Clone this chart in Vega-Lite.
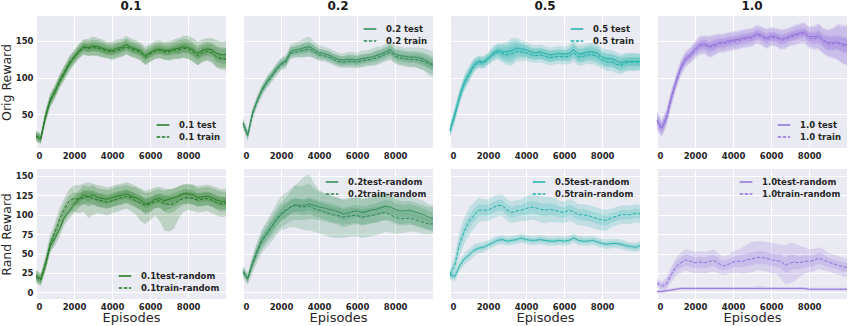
{
"$schema":"https://vega.github.io/schema/vega-lite/v6.json",
"padding":{"left":0,"top":0,"right":0,"bottom":0},
"background":"white",
"config":{
"view":{"fill":"#EAEAF2","stroke":null},
"axis":{"grid":true,"gridColor":"#FFFFFF","gridWidth":1,"domain":false,"ticks":false,"labelFont":"DejaVu Sans","labelFontWeight":"bold","labelFontSize":8.5,"labelColor":"#262626","labelPadding":3,"titleFont":"DejaVu Sans","titleFontWeight":"normal","titleFontSize":13,"titleColor":"#262626","minExtent":0},
"axisY":{"titlePadding":2,"labelPadding":3,"titleFontSize":12.5},
"axisX":{"titlePadding":1},
"title":{"font":"DejaVu Sans","fontSize":12,"fontWeight":"bold","color":"#1a1a1a","offset":3},
"legend":{"labelFont":"DejaVu Sans","labelFontWeight":"bold","labelFontSize":8.5,"labelColor":"#262626","symbolType":"stroke","symbolSize":160,"symbolStrokeWidth":1.3,"rowPadding":0,"offset":6,"labelOffset":9,"labelLimit":300}
},
"datasets":{
"o1":[
{"s":"test","x":0,"y":20,"lo":16,"hi":24,"lo2":13,"hi2":27},
{"s":"test","x":250,"y":16,"lo":12,"hi":20,"lo2":9,"hi2":23},
{"s":"test","x":500,"y":48,"lo":43,"hi":53,"lo2":39,"hi2":57},
{"s":"test","x":750,"y":68,"lo":63,"hi":73,"lo2":59,"hi2":77},
{"s":"test","x":1000,"y":82,"lo":77,"hi":87,"lo2":73,"hi2":91},
{"s":"test","x":1250,"y":95,"lo":90,"hi":100,"lo2":86,"hi2":104},
{"s":"test","x":1500,"y":106,"lo":101,"hi":111,"lo2":96,"hi2":116},
{"s":"test","x":1750,"y":118,"lo":113,"hi":123,"lo2":108,"hi2":128},
{"s":"test","x":2000,"y":128,"lo":123,"hi":133,"lo2":118,"hi2":138},
{"s":"test","x":2250,"y":136,"lo":131,"hi":141,"lo2":126,"hi2":146},
{"s":"test","x":2500,"y":142,"lo":137,"hi":147,"lo2":132,"hi2":152},
{"s":"test","x":2750,"y":141,"lo":135,"hi":147,"lo2":129,"hi2":153},
{"s":"test","x":3000,"y":143,"lo":137,"hi":149,"lo2":130,"hi2":156},
{"s":"test","x":3250,"y":142,"lo":136,"hi":148,"lo2":130,"hi2":154},
{"s":"test","x":3500,"y":140,"lo":134,"hi":146,"lo2":128,"hi2":152},
{"s":"test","x":3750,"y":138,"lo":132,"hi":144,"lo2":127,"hi2":149},
{"s":"test","x":4000,"y":137,"lo":131,"hi":143,"lo2":125,"hi2":149},
{"s":"test","x":4250,"y":140,"lo":134,"hi":146,"lo2":128,"hi2":152},
{"s":"test","x":4500,"y":141,"lo":135,"hi":147,"lo2":129,"hi2":153},
{"s":"test","x":4750,"y":145,"lo":139,"hi":151,"lo2":133,"hi2":157},
{"s":"test","x":5000,"y":141,"lo":135,"hi":147,"lo2":129,"hi2":153},
{"s":"test","x":5250,"y":139,"lo":133,"hi":145,"lo2":127,"hi2":151},
{"s":"test","x":5500,"y":136,"lo":130,"hi":142,"lo2":124,"hi2":148},
{"s":"test","x":5750,"y":130,"lo":124,"hi":136,"lo2":118,"hi2":142},
{"s":"test","x":6000,"y":134,"lo":128,"hi":140,"lo2":122,"hi2":146},
{"s":"test","x":6250,"y":138,"lo":132,"hi":144,"lo2":126,"hi2":150},
{"s":"test","x":6500,"y":139,"lo":133,"hi":145,"lo2":127,"hi2":151},
{"s":"test","x":6750,"y":137,"lo":131,"hi":143,"lo2":125,"hi2":149},
{"s":"test","x":7000,"y":137,"lo":131,"hi":143,"lo2":124,"hi2":150},
{"s":"test","x":7250,"y":139,"lo":133,"hi":145,"lo2":126,"hi2":152},
{"s":"test","x":7500,"y":140,"lo":133,"hi":147,"lo2":126,"hi2":154},
{"s":"test","x":7750,"y":142,"lo":135,"hi":149,"lo2":127,"hi2":157},
{"s":"test","x":8000,"y":141,"lo":134,"hi":148,"lo2":125,"hi2":157},
{"s":"test","x":8250,"y":138,"lo":131,"hi":145,"lo2":122,"hi2":154},
{"s":"test","x":8500,"y":133,"lo":126,"hi":140,"lo2":117,"hi2":149},
{"s":"test","x":8750,"y":137,"lo":130,"hi":144,"lo2":122,"hi2":152},
{"s":"test","x":9000,"y":139,"lo":132,"hi":146,"lo2":124,"hi2":154},
{"s":"test","x":9250,"y":138,"lo":131,"hi":145,"lo2":122,"hi2":154},
{"s":"test","x":9500,"y":133,"lo":125,"hi":141,"lo2":115,"hi2":151},
{"s":"test","x":9750,"y":131,"lo":123,"hi":139,"lo2":113,"hi2":149},
{"s":"test","x":9990,"y":132,"lo":124,"hi":140,"lo2":114,"hi2":150},
{"s":"train","x":0,"y":21,"lo":17,"hi":25,"lo2":14,"hi2":28},
{"s":"train","x":250,"y":17,"lo":13,"hi":21,"lo2":10,"hi2":24},
{"s":"train","x":500,"y":46,"lo":41,"hi":51,"lo2":37,"hi2":55},
{"s":"train","x":750,"y":70,"lo":65,"hi":75,"lo2":61,"hi2":79},
{"s":"train","x":1000,"y":80,"lo":75,"hi":85,"lo2":71,"hi2":89},
{"s":"train","x":1250,"y":96,"lo":91,"hi":101,"lo2":87,"hi2":105},
{"s":"train","x":1500,"y":108,"lo":103,"hi":113,"lo2":99,"hi2":117},
{"s":"train","x":1750,"y":120,"lo":115,"hi":125,"lo2":111,"hi2":129},
{"s":"train","x":2000,"y":127,"lo":122,"hi":132,"lo2":118,"hi2":136},
{"s":"train","x":2250,"y":135,"lo":130,"hi":140,"lo2":126,"hi2":144},
{"s":"train","x":2500,"y":141,"lo":136,"hi":146,"lo2":131,"hi2":151},
{"s":"train","x":2750,"y":140,"lo":135,"hi":145,"lo2":130,"hi2":150},
{"s":"train","x":3000,"y":141,"lo":136,"hi":146,"lo2":130,"hi2":152},
{"s":"train","x":3250,"y":140,"lo":135,"hi":145,"lo2":129,"hi2":151},
{"s":"train","x":3500,"y":138,"lo":133,"hi":143,"lo2":127,"hi2":149},
{"s":"train","x":3750,"y":136,"lo":131,"hi":141,"lo2":126,"hi2":146},
{"s":"train","x":4000,"y":135,"lo":130,"hi":140,"lo2":124,"hi2":146},
{"s":"train","x":4250,"y":137,"lo":132,"hi":142,"lo2":126,"hi2":148},
{"s":"train","x":4500,"y":139,"lo":134,"hi":144,"lo2":128,"hi2":150},
{"s":"train","x":4750,"y":142,"lo":137,"hi":147,"lo2":131,"hi2":153},
{"s":"train","x":5000,"y":139,"lo":134,"hi":144,"lo2":128,"hi2":150},
{"s":"train","x":5250,"y":137,"lo":132,"hi":142,"lo2":126,"hi2":148},
{"s":"train","x":5500,"y":134,"lo":129,"hi":139,"lo2":123,"hi2":145},
{"s":"train","x":5750,"y":128,"lo":123,"hi":133,"lo2":117,"hi2":139},
{"s":"train","x":6000,"y":132,"lo":127,"hi":137,"lo2":121,"hi2":143},
{"s":"train","x":6250,"y":136,"lo":131,"hi":141,"lo2":125,"hi2":147},
{"s":"train","x":6500,"y":137,"lo":132,"hi":142,"lo2":126,"hi2":148},
{"s":"train","x":6750,"y":135,"lo":130,"hi":140,"lo2":124,"hi2":146},
{"s":"train","x":7000,"y":135,"lo":130,"hi":140,"lo2":123,"hi2":147},
{"s":"train","x":7250,"y":137,"lo":132,"hi":142,"lo2":125,"hi2":149},
{"s":"train","x":7500,"y":138,"lo":132,"hi":144,"lo2":125,"hi2":151},
{"s":"train","x":7750,"y":140,"lo":134,"hi":146,"lo2":127,"hi2":153},
{"s":"train","x":8000,"y":139,"lo":133,"hi":145,"lo2":126,"hi2":152},
{"s":"train","x":8250,"y":135,"lo":129,"hi":141,"lo2":122,"hi2":148},
{"s":"train","x":8500,"y":130,"lo":124,"hi":136,"lo2":117,"hi2":143},
{"s":"train","x":8750,"y":134,"lo":128,"hi":140,"lo2":121,"hi2":147},
{"s":"train","x":9000,"y":136,"lo":130,"hi":142,"lo2":123,"hi2":149},
{"s":"train","x":9250,"y":134,"lo":128,"hi":140,"lo2":120,"hi2":148},
{"s":"train","x":9500,"y":128,"lo":121,"hi":135,"lo2":113,"hi2":143},
{"s":"train","x":9750,"y":126,"lo":119,"hi":133,"lo2":111,"hi2":141},
{"s":"train","x":9990,"y":125,"lo":118,"hi":132,"lo2":110,"hi2":140}
],
"o2":[
{"s":"test","x":0,"y":38,"lo":35,"hi":41,"lo2":32,"hi2":44},
{"s":"test","x":250,"y":22,"lo":19,"hi":25,"lo2":16,"hi2":28},
{"s":"test","x":500,"y":52,"lo":49,"hi":55,"lo2":46,"hi2":58},
{"s":"test","x":750,"y":69,"lo":66,"hi":72,"lo2":63,"hi2":75},
{"s":"test","x":1000,"y":84,"lo":81,"hi":87,"lo2":78,"hi2":90},
{"s":"test","x":1250,"y":94,"lo":90,"hi":98,"lo2":87,"hi2":101},
{"s":"test","x":1500,"y":103,"lo":99,"hi":107,"lo2":96,"hi2":110},
{"s":"test","x":1750,"y":112,"lo":108,"hi":116,"lo2":105,"hi2":119},
{"s":"test","x":2000,"y":119,"lo":115,"hi":123,"lo2":111,"hi2":127},
{"s":"test","x":2250,"y":123,"lo":119,"hi":127,"lo2":115,"hi2":131},
{"s":"test","x":2500,"y":136,"lo":131,"hi":141,"lo2":127,"hi2":145},
{"s":"test","x":2750,"y":138,"lo":133,"hi":143,"lo2":128,"hi2":148},
{"s":"test","x":3000,"y":139,"lo":134,"hi":144,"lo2":128,"hi2":150},
{"s":"test","x":3250,"y":141,"lo":135,"hi":147,"lo2":128,"hi2":154},
{"s":"test","x":3500,"y":142,"lo":136,"hi":148,"lo2":128,"hi2":156},
{"s":"test","x":3750,"y":138,"lo":133,"hi":143,"lo2":127,"hi2":149},
{"s":"test","x":4000,"y":134,"lo":129,"hi":139,"lo2":124,"hi2":144},
{"s":"test","x":4250,"y":133,"lo":128,"hi":138,"lo2":124,"hi2":142},
{"s":"test","x":4500,"y":131,"lo":126,"hi":136,"lo2":122,"hi2":140},
{"s":"test","x":4750,"y":128,"lo":123,"hi":133,"lo2":119,"hi2":137},
{"s":"test","x":5000,"y":125,"lo":120,"hi":130,"lo2":116,"hi2":134},
{"s":"test","x":5250,"y":124,"lo":119,"hi":129,"lo2":115,"hi2":133},
{"s":"test","x":5500,"y":125,"lo":120,"hi":130,"lo2":115,"hi2":135},
{"s":"test","x":5750,"y":125,"lo":120,"hi":130,"lo2":115,"hi2":135},
{"s":"test","x":6000,"y":124,"lo":119,"hi":129,"lo2":114,"hi2":134},
{"s":"test","x":6250,"y":126,"lo":121,"hi":131,"lo2":115,"hi2":137},
{"s":"test","x":6500,"y":127,"lo":122,"hi":132,"lo2":117,"hi2":137},
{"s":"test","x":6750,"y":128,"lo":123,"hi":133,"lo2":117,"hi2":139},
{"s":"test","x":7000,"y":130,"lo":124,"hi":136,"lo2":118,"hi2":142},
{"s":"test","x":7250,"y":132,"lo":127,"hi":137,"lo2":122,"hi2":142},
{"s":"test","x":7500,"y":135,"lo":130,"hi":140,"lo2":124,"hi2":146},
{"s":"test","x":7750,"y":138,"lo":132,"hi":144,"lo2":126,"hi2":150},
{"s":"test","x":8000,"y":132,"lo":126,"hi":138,"lo2":121,"hi2":143},
{"s":"test","x":8250,"y":130,"lo":124,"hi":136,"lo2":118,"hi2":142},
{"s":"test","x":8500,"y":129,"lo":123,"hi":135,"lo2":117,"hi2":141},
{"s":"test","x":8750,"y":128,"lo":122,"hi":134,"lo2":115,"hi2":141},
{"s":"test","x":9000,"y":128,"lo":122,"hi":134,"lo2":115,"hi2":141},
{"s":"test","x":9250,"y":127,"lo":121,"hi":133,"lo2":113,"hi2":141},
{"s":"test","x":9500,"y":125,"lo":118,"hi":132,"lo2":110,"hi2":140},
{"s":"test","x":9750,"y":121,"lo":113,"hi":129,"lo2":104,"hi2":138},
{"s":"test","x":9990,"y":118,"lo":110,"hi":126,"lo2":100,"hi2":136},
{"s":"train","x":0,"y":37,"lo":33,"hi":41,"lo2":29,"hi2":45},
{"s":"train","x":250,"y":21,"lo":17,"hi":25,"lo2":13,"hi2":29},
{"s":"train","x":500,"y":50,"lo":46,"hi":54,"lo2":42,"hi2":58},
{"s":"train","x":750,"y":68,"lo":64,"hi":72,"lo2":60,"hi2":76},
{"s":"train","x":1000,"y":82,"lo":78,"hi":86,"lo2":74,"hi2":90},
{"s":"train","x":1250,"y":93,"lo":89,"hi":97,"lo2":85,"hi2":101},
{"s":"train","x":1500,"y":101,"lo":97,"hi":105,"lo2":93,"hi2":109},
{"s":"train","x":1750,"y":110,"lo":106,"hi":114,"lo2":102,"hi2":118},
{"s":"train","x":2000,"y":118,"lo":114,"hi":122,"lo2":110,"hi2":126},
{"s":"train","x":2250,"y":121,"lo":117,"hi":125,"lo2":113,"hi2":129},
{"s":"train","x":2500,"y":133,"lo":129,"hi":137,"lo2":125,"hi2":141},
{"s":"train","x":2750,"y":135,"lo":131,"hi":139,"lo2":127,"hi2":143},
{"s":"train","x":3000,"y":136,"lo":132,"hi":140,"lo2":127,"hi2":145},
{"s":"train","x":3250,"y":138,"lo":133,"hi":143,"lo2":128,"hi2":148},
{"s":"train","x":3500,"y":139,"lo":134,"hi":144,"lo2":129,"hi2":149},
{"s":"train","x":3750,"y":135,"lo":131,"hi":139,"lo2":126,"hi2":144},
{"s":"train","x":4000,"y":131,"lo":127,"hi":135,"lo2":123,"hi2":139},
{"s":"train","x":4250,"y":130,"lo":126,"hi":134,"lo2":122,"hi2":138},
{"s":"train","x":4500,"y":128,"lo":124,"hi":132,"lo2":120,"hi2":136},
{"s":"train","x":4750,"y":125,"lo":121,"hi":129,"lo2":117,"hi2":133},
{"s":"train","x":5000,"y":122,"lo":118,"hi":126,"lo2":114,"hi2":130},
{"s":"train","x":5250,"y":121,"lo":117,"hi":125,"lo2":113,"hi2":129},
{"s":"train","x":5500,"y":122,"lo":118,"hi":126,"lo2":113,"hi2":131},
{"s":"train","x":5750,"y":122,"lo":118,"hi":126,"lo2":113,"hi2":131},
{"s":"train","x":6000,"y":121,"lo":117,"hi":125,"lo2":112,"hi2":130},
{"s":"train","x":6250,"y":123,"lo":119,"hi":127,"lo2":114,"hi2":132},
{"s":"train","x":6500,"y":124,"lo":120,"hi":128,"lo2":115,"hi2":133},
{"s":"train","x":6750,"y":125,"lo":121,"hi":129,"lo2":116,"hi2":134},
{"s":"train","x":7000,"y":127,"lo":122,"hi":132,"lo2":117,"hi2":137},
{"s":"train","x":7250,"y":129,"lo":124,"hi":134,"lo2":119,"hi2":139},
{"s":"train","x":7500,"y":132,"lo":127,"hi":137,"lo2":122,"hi2":142},
{"s":"train","x":7750,"y":135,"lo":130,"hi":140,"lo2":124,"hi2":146},
{"s":"train","x":8000,"y":129,"lo":124,"hi":134,"lo2":119,"hi2":139},
{"s":"train","x":8250,"y":127,"lo":122,"hi":132,"lo2":116,"hi2":138},
{"s":"train","x":8500,"y":126,"lo":121,"hi":131,"lo2":115,"hi2":137},
{"s":"train","x":8750,"y":125,"lo":120,"hi":130,"lo2":114,"hi2":136},
{"s":"train","x":9000,"y":125,"lo":120,"hi":130,"lo2":114,"hi2":136},
{"s":"train","x":9250,"y":124,"lo":118,"hi":130,"lo2":112,"hi2":136},
{"s":"train","x":9500,"y":122,"lo":116,"hi":128,"lo2":110,"hi2":134},
{"s":"train","x":9750,"y":119,"lo":113,"hi":125,"lo2":107,"hi2":131},
{"s":"train","x":9990,"y":116,"lo":110,"hi":122,"lo2":104,"hi2":128}
],
"o5":[
{"s":"test","x":0,"y":28,"lo":24,"hi":32,"lo2":20,"hi2":36},
{"s":"test","x":250,"y":50,"lo":45,"hi":55,"lo2":40,"hi2":60},
{"s":"test","x":500,"y":74,"lo":69,"hi":79,"lo2":64,"hi2":84},
{"s":"test","x":750,"y":93,"lo":88,"hi":98,"lo2":83,"hi2":103},
{"s":"test","x":1000,"y":105,"lo":100,"hi":110,"lo2":95,"hi2":115},
{"s":"test","x":1250,"y":117,"lo":112,"hi":122,"lo2":108,"hi2":126},
{"s":"test","x":1500,"y":122,"lo":118,"hi":126,"lo2":114,"hi2":130},
{"s":"test","x":1750,"y":121,"lo":117,"hi":125,"lo2":113,"hi2":129},
{"s":"test","x":2000,"y":126,"lo":122,"hi":130,"lo2":118,"hi2":134},
{"s":"test","x":2250,"y":133,"lo":129,"hi":137,"lo2":124,"hi2":142},
{"s":"test","x":2500,"y":137,"lo":132,"hi":142,"lo2":127,"hi2":147},
{"s":"test","x":2750,"y":135,"lo":129,"hi":141,"lo2":123,"hi2":147},
{"s":"test","x":3000,"y":135,"lo":128,"hi":142,"lo2":121,"hi2":149},
{"s":"test","x":3250,"y":137,"lo":129,"hi":145,"lo2":120,"hi2":154},
{"s":"test","x":3500,"y":140,"lo":133,"hi":147,"lo2":126,"hi2":154},
{"s":"test","x":3750,"y":139,"lo":133,"hi":145,"lo2":127,"hi2":151},
{"s":"test","x":4000,"y":138,"lo":132,"hi":144,"lo2":127,"hi2":149},
{"s":"test","x":4250,"y":135,"lo":130,"hi":140,"lo2":125,"hi2":145},
{"s":"test","x":4500,"y":134,"lo":129,"hi":139,"lo2":124,"hi2":144},
{"s":"test","x":4750,"y":135,"lo":130,"hi":140,"lo2":125,"hi2":145},
{"s":"test","x":5000,"y":133,"lo":128,"hi":138,"lo2":123,"hi2":143},
{"s":"test","x":5250,"y":131,"lo":126,"hi":136,"lo2":121,"hi2":141},
{"s":"test","x":5500,"y":132,"lo":127,"hi":137,"lo2":122,"hi2":142},
{"s":"test","x":5750,"y":133,"lo":128,"hi":138,"lo2":123,"hi2":143},
{"s":"test","x":6000,"y":132,"lo":127,"hi":137,"lo2":122,"hi2":142},
{"s":"test","x":6250,"y":133,"lo":128,"hi":138,"lo2":122,"hi2":144},
{"s":"test","x":6500,"y":138,"lo":132,"hi":144,"lo2":126,"hi2":150},
{"s":"test","x":6750,"y":132,"lo":126,"hi":138,"lo2":120,"hi2":144},
{"s":"test","x":7000,"y":133,"lo":127,"hi":139,"lo2":121,"hi2":145},
{"s":"test","x":7250,"y":135,"lo":129,"hi":141,"lo2":123,"hi2":147},
{"s":"test","x":7500,"y":135,"lo":129,"hi":141,"lo2":122,"hi2":148},
{"s":"test","x":7750,"y":133,"lo":127,"hi":139,"lo2":120,"hi2":146},
{"s":"test","x":8000,"y":128,"lo":122,"hi":134,"lo2":116,"hi2":140},
{"s":"test","x":8250,"y":126,"lo":120,"hi":132,"lo2":114,"hi2":138},
{"s":"test","x":8500,"y":126,"lo":120,"hi":132,"lo2":114,"hi2":138},
{"s":"test","x":8750,"y":123,"lo":117,"hi":129,"lo2":111,"hi2":135},
{"s":"test","x":9000,"y":120,"lo":114,"hi":126,"lo2":108,"hi2":132},
{"s":"test","x":9250,"y":122,"lo":116,"hi":128,"lo2":110,"hi2":134},
{"s":"test","x":9500,"y":122,"lo":116,"hi":128,"lo2":110,"hi2":134},
{"s":"test","x":9750,"y":122,"lo":116,"hi":128,"lo2":110,"hi2":134},
{"s":"test","x":9990,"y":122,"lo":116,"hi":128,"lo2":111,"hi2":133},
{"s":"train","x":0,"y":27,"lo":23,"hi":31,"lo2":19,"hi2":35},
{"s":"train","x":250,"y":48,"lo":43,"hi":53,"lo2":38,"hi2":58},
{"s":"train","x":500,"y":73,"lo":68,"hi":78,"lo2":63,"hi2":83},
{"s":"train","x":750,"y":92,"lo":87,"hi":97,"lo2":82,"hi2":102},
{"s":"train","x":1000,"y":104,"lo":99,"hi":109,"lo2":94,"hi2":114},
{"s":"train","x":1250,"y":116,"lo":111,"hi":121,"lo2":107,"hi2":125},
{"s":"train","x":1500,"y":121,"lo":117,"hi":125,"lo2":113,"hi2":129},
{"s":"train","x":1750,"y":120,"lo":116,"hi":124,"lo2":112,"hi2":128},
{"s":"train","x":2000,"y":125,"lo":121,"hi":129,"lo2":117,"hi2":133},
{"s":"train","x":2250,"y":131,"lo":127,"hi":135,"lo2":122,"hi2":140},
{"s":"train","x":2500,"y":135,"lo":130,"hi":140,"lo2":125,"hi2":145},
{"s":"train","x":2750,"y":133,"lo":127,"hi":139,"lo2":121,"hi2":145},
{"s":"train","x":3000,"y":131,"lo":124,"hi":138,"lo2":117,"hi2":145},
{"s":"train","x":3250,"y":133,"lo":125,"hi":141,"lo2":116,"hi2":150},
{"s":"train","x":3500,"y":136,"lo":129,"hi":143,"lo2":122,"hi2":150},
{"s":"train","x":3750,"y":135,"lo":129,"hi":141,"lo2":123,"hi2":147},
{"s":"train","x":4000,"y":134,"lo":128,"hi":140,"lo2":123,"hi2":145},
{"s":"train","x":4250,"y":131,"lo":126,"hi":136,"lo2":121,"hi2":141},
{"s":"train","x":4500,"y":130,"lo":125,"hi":135,"lo2":120,"hi2":140},
{"s":"train","x":4750,"y":131,"lo":126,"hi":136,"lo2":121,"hi2":141},
{"s":"train","x":5000,"y":129,"lo":124,"hi":134,"lo2":119,"hi2":139},
{"s":"train","x":5250,"y":127,"lo":122,"hi":132,"lo2":117,"hi2":137},
{"s":"train","x":5500,"y":128,"lo":123,"hi":133,"lo2":118,"hi2":138},
{"s":"train","x":5750,"y":129,"lo":124,"hi":134,"lo2":119,"hi2":139},
{"s":"train","x":6000,"y":128,"lo":123,"hi":133,"lo2":118,"hi2":138},
{"s":"train","x":6250,"y":129,"lo":124,"hi":134,"lo2":118,"hi2":140},
{"s":"train","x":6500,"y":134,"lo":128,"hi":140,"lo2":122,"hi2":146},
{"s":"train","x":6750,"y":128,"lo":122,"hi":134,"lo2":116,"hi2":140},
{"s":"train","x":7000,"y":129,"lo":123,"hi":135,"lo2":117,"hi2":141},
{"s":"train","x":7250,"y":131,"lo":125,"hi":137,"lo2":119,"hi2":143},
{"s":"train","x":7500,"y":131,"lo":125,"hi":137,"lo2":118,"hi2":144},
{"s":"train","x":7750,"y":129,"lo":123,"hi":135,"lo2":116,"hi2":142},
{"s":"train","x":8000,"y":124,"lo":118,"hi":130,"lo2":112,"hi2":136},
{"s":"train","x":8250,"y":121,"lo":115,"hi":127,"lo2":109,"hi2":133},
{"s":"train","x":8500,"y":121,"lo":115,"hi":127,"lo2":109,"hi2":133},
{"s":"train","x":8750,"y":118,"lo":112,"hi":124,"lo2":106,"hi2":130},
{"s":"train","x":9000,"y":117,"lo":111,"hi":123,"lo2":105,"hi2":129},
{"s":"train","x":9250,"y":120,"lo":114,"hi":126,"lo2":108,"hi2":132},
{"s":"train","x":9500,"y":121,"lo":115,"hi":127,"lo2":109,"hi2":133},
{"s":"train","x":9750,"y":121,"lo":115,"hi":127,"lo2":109,"hi2":133},
{"s":"train","x":9990,"y":121,"lo":115,"hi":127,"lo2":110,"hi2":132}
],
"o10":[
{"s":"test","x":0,"y":42,"lo":36,"hi":48,"lo2":30,"hi2":54},
{"s":"test","x":250,"y":31,"lo":25,"hi":37,"lo2":20,"hi2":42},
{"s":"test","x":500,"y":46,"lo":40,"hi":52,"lo2":35,"hi2":57},
{"s":"test","x":750,"y":73,"lo":67,"hi":79,"lo2":62,"hi2":84},
{"s":"test","x":1000,"y":95,"lo":90,"hi":100,"lo2":85,"hi2":105},
{"s":"test","x":1250,"y":114,"lo":109,"hi":119,"lo2":104,"hi2":124},
{"s":"test","x":1500,"y":126,"lo":121,"hi":131,"lo2":116,"hi2":136},
{"s":"test","x":1750,"y":131,"lo":126,"hi":136,"lo2":121,"hi2":141},
{"s":"test","x":2000,"y":139,"lo":133,"hi":145,"lo2":128,"hi2":150},
{"s":"test","x":2250,"y":145,"lo":139,"hi":151,"lo2":133,"hi2":157},
{"s":"test","x":2500,"y":146,"lo":140,"hi":152,"lo2":134,"hi2":158},
{"s":"test","x":2750,"y":143,"lo":136,"hi":150,"lo2":129,"hi2":157},
{"s":"test","x":3000,"y":145,"lo":138,"hi":152,"lo2":131,"hi2":159},
{"s":"test","x":3250,"y":148,"lo":142,"hi":154,"lo2":136,"hi2":160},
{"s":"test","x":3500,"y":148,"lo":142,"hi":154,"lo2":136,"hi2":160},
{"s":"test","x":3750,"y":150,"lo":144,"hi":156,"lo2":138,"hi2":162},
{"s":"test","x":4000,"y":151,"lo":145,"hi":157,"lo2":139,"hi2":163},
{"s":"test","x":4250,"y":152,"lo":146,"hi":158,"lo2":140,"hi2":164},
{"s":"test","x":4500,"y":154,"lo":148,"hi":160,"lo2":142,"hi2":166},
{"s":"test","x":4750,"y":155,"lo":149,"hi":161,"lo2":143,"hi2":167},
{"s":"test","x":5000,"y":156,"lo":150,"hi":162,"lo2":144,"hi2":168},
{"s":"test","x":5250,"y":160,"lo":154,"hi":166,"lo2":148,"hi2":172},
{"s":"test","x":5500,"y":158,"lo":152,"hi":164,"lo2":146,"hi2":170},
{"s":"test","x":5750,"y":154,"lo":148,"hi":160,"lo2":141,"hi2":167},
{"s":"test","x":6000,"y":157,"lo":151,"hi":163,"lo2":145,"hi2":169},
{"s":"test","x":6250,"y":156,"lo":150,"hi":162,"lo2":144,"hi2":168},
{"s":"test","x":6500,"y":153,"lo":147,"hi":159,"lo2":140,"hi2":166},
{"s":"test","x":6750,"y":154,"lo":148,"hi":160,"lo2":141,"hi2":167},
{"s":"test","x":7000,"y":157,"lo":151,"hi":163,"lo2":145,"hi2":169},
{"s":"test","x":7250,"y":159,"lo":153,"hi":165,"lo2":146,"hi2":172},
{"s":"test","x":7500,"y":161,"lo":155,"hi":167,"lo2":148,"hi2":174},
{"s":"test","x":7750,"y":162,"lo":156,"hi":168,"lo2":149,"hi2":175},
{"s":"test","x":8000,"y":156,"lo":149,"hi":163,"lo2":142,"hi2":170},
{"s":"test","x":8250,"y":156,"lo":149,"hi":163,"lo2":141,"hi2":171},
{"s":"test","x":8500,"y":157,"lo":149,"hi":165,"lo2":140,"hi2":174},
{"s":"test","x":8750,"y":151,"lo":143,"hi":159,"lo2":134,"hi2":168},
{"s":"test","x":9000,"y":148,"lo":139,"hi":157,"lo2":130,"hi2":166},
{"s":"test","x":9250,"y":148,"lo":139,"hi":157,"lo2":128,"hi2":168},
{"s":"test","x":9500,"y":149,"lo":140,"hi":158,"lo2":125,"hi2":173},
{"s":"test","x":9750,"y":146,"lo":136,"hi":156,"lo2":120,"hi2":172},
{"s":"test","x":9990,"y":145,"lo":135,"hi":155,"lo2":118,"hi2":172},
{"s":"train","x":0,"y":41,"lo":35,"hi":47,"lo2":29,"hi2":53},
{"s":"train","x":250,"y":30,"lo":24,"hi":36,"lo2":19,"hi2":41},
{"s":"train","x":500,"y":45,"lo":39,"hi":51,"lo2":34,"hi2":56},
{"s":"train","x":750,"y":71,"lo":65,"hi":77,"lo2":60,"hi2":82},
{"s":"train","x":1000,"y":93,"lo":88,"hi":98,"lo2":83,"hi2":103},
{"s":"train","x":1250,"y":112,"lo":107,"hi":117,"lo2":102,"hi2":122},
{"s":"train","x":1500,"y":124,"lo":119,"hi":129,"lo2":114,"hi2":134},
{"s":"train","x":1750,"y":130,"lo":125,"hi":135,"lo2":120,"hi2":140},
{"s":"train","x":2000,"y":137,"lo":131,"hi":143,"lo2":126,"hi2":148},
{"s":"train","x":2250,"y":143,"lo":137,"hi":149,"lo2":131,"hi2":155},
{"s":"train","x":2500,"y":144,"lo":138,"hi":150,"lo2":132,"hi2":156},
{"s":"train","x":2750,"y":141,"lo":134,"hi":148,"lo2":127,"hi2":155},
{"s":"train","x":3000,"y":143,"lo":136,"hi":150,"lo2":129,"hi2":157},
{"s":"train","x":3250,"y":146,"lo":140,"hi":152,"lo2":134,"hi2":158},
{"s":"train","x":3500,"y":146,"lo":140,"hi":152,"lo2":134,"hi2":158},
{"s":"train","x":3750,"y":148,"lo":142,"hi":154,"lo2":136,"hi2":160},
{"s":"train","x":4000,"y":149,"lo":143,"hi":155,"lo2":137,"hi2":161},
{"s":"train","x":4250,"y":150,"lo":144,"hi":156,"lo2":138,"hi2":162},
{"s":"train","x":4500,"y":152,"lo":146,"hi":158,"lo2":140,"hi2":164},
{"s":"train","x":4750,"y":153,"lo":147,"hi":159,"lo2":141,"hi2":165},
{"s":"train","x":5000,"y":154,"lo":148,"hi":160,"lo2":142,"hi2":166},
{"s":"train","x":5250,"y":158,"lo":152,"hi":164,"lo2":146,"hi2":170},
{"s":"train","x":5500,"y":156,"lo":150,"hi":162,"lo2":144,"hi2":168},
{"s":"train","x":5750,"y":152,"lo":146,"hi":158,"lo2":139,"hi2":165},
{"s":"train","x":6000,"y":155,"lo":149,"hi":161,"lo2":143,"hi2":167},
{"s":"train","x":6250,"y":154,"lo":148,"hi":160,"lo2":142,"hi2":166},
{"s":"train","x":6500,"y":151,"lo":145,"hi":157,"lo2":138,"hi2":164},
{"s":"train","x":6750,"y":152,"lo":146,"hi":158,"lo2":139,"hi2":165},
{"s":"train","x":7000,"y":155,"lo":149,"hi":161,"lo2":143,"hi2":167},
{"s":"train","x":7250,"y":157,"lo":151,"hi":163,"lo2":144,"hi2":170},
{"s":"train","x":7500,"y":159,"lo":153,"hi":165,"lo2":146,"hi2":172},
{"s":"train","x":7750,"y":160,"lo":154,"hi":166,"lo2":147,"hi2":173},
{"s":"train","x":8000,"y":154,"lo":147,"hi":161,"lo2":140,"hi2":168},
{"s":"train","x":8250,"y":153,"lo":146,"hi":160,"lo2":138,"hi2":168},
{"s":"train","x":8500,"y":155,"lo":147,"hi":163,"lo2":138,"hi2":172},
{"s":"train","x":8750,"y":149,"lo":141,"hi":157,"lo2":132,"hi2":166},
{"s":"train","x":9000,"y":146,"lo":137,"hi":155,"lo2":128,"hi2":164},
{"s":"train","x":9250,"y":146,"lo":137,"hi":155,"lo2":126,"hi2":166},
{"s":"train","x":9500,"y":147,"lo":138,"hi":156,"lo2":124,"hi2":170},
{"s":"train","x":9750,"y":144,"lo":134,"hi":154,"lo2":119,"hi2":169},
{"s":"train","x":9990,"y":143,"lo":133,"hi":153,"lo2":117,"hi2":169}
],
"r1":[
{"s":"test","x":0,"y":21,"lo":17,"hi":25,"lo2":13,"hi2":29},
{"s":"test","x":250,"y":17,"lo":13,"hi":21,"lo2":9,"hi2":25},
{"s":"test","x":500,"y":35,"lo":31,"hi":39,"lo2":27,"hi2":43},
{"s":"test","x":750,"y":60,"lo":56,"hi":64,"lo2":52,"hi2":68},
{"s":"test","x":1000,"y":70,"lo":65,"hi":75,"lo2":60,"hi2":80},
{"s":"test","x":1250,"y":82,"lo":77,"hi":87,"lo2":72,"hi2":92},
{"s":"test","x":1500,"y":97,"lo":92,"hi":102,"lo2":87,"hi2":107},
{"s":"test","x":1750,"y":105,"lo":100,"hi":110,"lo2":95,"hi2":115},
{"s":"test","x":2000,"y":113,"lo":108,"hi":118,"lo2":102,"hi2":124},
{"s":"test","x":2250,"y":120,"lo":115,"hi":125,"lo2":109,"hi2":131},
{"s":"test","x":2500,"y":126,"lo":120,"hi":132,"lo2":114,"hi2":138},
{"s":"test","x":2750,"y":123,"lo":117,"hi":129,"lo2":110,"hi2":136},
{"s":"test","x":3000,"y":126,"lo":120,"hi":132,"lo2":114,"hi2":138},
{"s":"test","x":3250,"y":122,"lo":116,"hi":128,"lo2":110,"hi2":134},
{"s":"test","x":3500,"y":121,"lo":115,"hi":127,"lo2":109,"hi2":133},
{"s":"test","x":3750,"y":120,"lo":114,"hi":126,"lo2":108,"hi2":132},
{"s":"test","x":4000,"y":122,"lo":116,"hi":128,"lo2":110,"hi2":134},
{"s":"test","x":4250,"y":124,"lo":118,"hi":130,"lo2":112,"hi2":136},
{"s":"test","x":4500,"y":125,"lo":119,"hi":131,"lo2":113,"hi2":137},
{"s":"test","x":4750,"y":127,"lo":121,"hi":133,"lo2":115,"hi2":139},
{"s":"test","x":5000,"y":124,"lo":118,"hi":130,"lo2":112,"hi2":136},
{"s":"test","x":5250,"y":122,"lo":116,"hi":128,"lo2":109,"hi2":135},
{"s":"test","x":5500,"y":119,"lo":113,"hi":125,"lo2":106,"hi2":132},
{"s":"test","x":5750,"y":114,"lo":108,"hi":120,"lo2":100,"hi2":128},
{"s":"test","x":6000,"y":116,"lo":110,"hi":122,"lo2":103,"hi2":129},
{"s":"test","x":6250,"y":120,"lo":114,"hi":126,"lo2":108,"hi2":132},
{"s":"test","x":6500,"y":121,"lo":115,"hi":127,"lo2":109,"hi2":133},
{"s":"test","x":6750,"y":118,"lo":112,"hi":124,"lo2":105,"hi2":131},
{"s":"test","x":7000,"y":120,"lo":114,"hi":126,"lo2":107,"hi2":133},
{"s":"test","x":7250,"y":122,"lo":116,"hi":128,"lo2":110,"hi2":134},
{"s":"test","x":7500,"y":124,"lo":118,"hi":130,"lo2":112,"hi2":136},
{"s":"test","x":7750,"y":127,"lo":121,"hi":133,"lo2":115,"hi2":139},
{"s":"test","x":8000,"y":127,"lo":121,"hi":133,"lo2":115,"hi2":139},
{"s":"test","x":8250,"y":126,"lo":120,"hi":132,"lo2":114,"hi2":138},
{"s":"test","x":8500,"y":122,"lo":116,"hi":128,"lo2":110,"hi2":134},
{"s":"test","x":8750,"y":123,"lo":117,"hi":129,"lo2":111,"hi2":135},
{"s":"test","x":9000,"y":124,"lo":118,"hi":130,"lo2":112,"hi2":136},
{"s":"test","x":9250,"y":122,"lo":116,"hi":128,"lo2":110,"hi2":134},
{"s":"test","x":9500,"y":119,"lo":113,"hi":125,"lo2":106,"hi2":132},
{"s":"test","x":9750,"y":117,"lo":111,"hi":123,"lo2":104,"hi2":130},
{"s":"test","x":9990,"y":117,"lo":111,"hi":123,"lo2":105,"hi2":129},
{"s":"train","x":0,"y":20,"lo":16,"hi":24,"lo2":12,"hi2":28},
{"s":"train","x":250,"y":16,"lo":12,"hi":20,"lo2":8,"hi2":24},
{"s":"train","x":500,"y":38,"lo":33,"hi":43,"lo2":28,"hi2":48},
{"s":"train","x":750,"y":63,"lo":57,"hi":69,"lo2":51,"hi2":75},
{"s":"train","x":1000,"y":78,"lo":72,"hi":84,"lo2":66,"hi2":90},
{"s":"train","x":1250,"y":95,"lo":88,"hi":102,"lo2":81,"hi2":109},
{"s":"train","x":1500,"y":108,"lo":101,"hi":115,"lo2":94,"hi2":122},
{"s":"train","x":1750,"y":118,"lo":111,"hi":125,"lo2":103,"hi2":133},
{"s":"train","x":2000,"y":121,"lo":113,"hi":129,"lo2":104,"hi2":138},
{"s":"train","x":2250,"y":120,"lo":112,"hi":128,"lo2":102,"hi2":138},
{"s":"train","x":2500,"y":122,"lo":114,"hi":130,"lo2":104,"hi2":140},
{"s":"train","x":2750,"y":124,"lo":115,"hi":133,"lo2":96,"hi2":142},
{"s":"train","x":3000,"y":121,"lo":113,"hi":129,"lo2":100,"hi2":140},
{"s":"train","x":3250,"y":119,"lo":111,"hi":127,"lo2":102,"hi2":138},
{"s":"train","x":3500,"y":118,"lo":110,"hi":126,"lo2":101,"hi2":137},
{"s":"train","x":3750,"y":116,"lo":108,"hi":124,"lo2":99,"hi2":135},
{"s":"train","x":4000,"y":118,"lo":110,"hi":126,"lo2":102,"hi2":137},
{"s":"train","x":4250,"y":120,"lo":112,"hi":128,"lo2":104,"hi2":139},
{"s":"train","x":4500,"y":122,"lo":114,"hi":130,"lo2":106,"hi2":140},
{"s":"train","x":4750,"y":124,"lo":116,"hi":132,"lo2":108,"hi2":142},
{"s":"train","x":5000,"y":122,"lo":114,"hi":130,"lo2":105,"hi2":140},
{"s":"train","x":5250,"y":118,"lo":110,"hi":126,"lo2":100,"hi2":137},
{"s":"train","x":5500,"y":115,"lo":106,"hi":124,"lo2":92,"hi2":134},
{"s":"train","x":5750,"y":112,"lo":103,"hi":121,"lo2":88,"hi2":131},
{"s":"train","x":6000,"y":114,"lo":105,"hi":123,"lo2":93,"hi2":133},
{"s":"train","x":6250,"y":117,"lo":109,"hi":125,"lo2":99,"hi2":135},
{"s":"train","x":6500,"y":118,"lo":109,"hi":127,"lo2":92,"hi2":136},
{"s":"train","x":6750,"y":115,"lo":104,"hi":126,"lo2":80,"hi2":134},
{"s":"train","x":7000,"y":113,"lo":102,"hi":124,"lo2":78,"hi2":133},
{"s":"train","x":7250,"y":114,"lo":104,"hi":124,"lo2":82,"hi2":134},
{"s":"train","x":7500,"y":118,"lo":109,"hi":127,"lo2":95,"hi2":137},
{"s":"train","x":7750,"y":121,"lo":113,"hi":129,"lo2":104,"hi2":139},
{"s":"train","x":8000,"y":122,"lo":114,"hi":130,"lo2":106,"hi2":140},
{"s":"train","x":8250,"y":121,"lo":113,"hi":129,"lo2":105,"hi2":139},
{"s":"train","x":8500,"y":119,"lo":111,"hi":127,"lo2":103,"hi2":137},
{"s":"train","x":8750,"y":120,"lo":112,"hi":128,"lo2":104,"hi2":138},
{"s":"train","x":9000,"y":121,"lo":113,"hi":129,"lo2":105,"hi2":139},
{"s":"train","x":9250,"y":119,"lo":111,"hi":127,"lo2":102,"hi2":137},
{"s":"train","x":9500,"y":116,"lo":108,"hi":124,"lo2":99,"hi2":135},
{"s":"train","x":9750,"y":114,"lo":106,"hi":122,"lo2":97,"hi2":133},
{"s":"train","x":9990,"y":115,"lo":107,"hi":123,"lo2":98,"hi2":134}
],
"r2":[
{"s":"test","x":0,"y":27,"lo":24,"hi":30,"lo2":21,"hi2":33},
{"s":"test","x":250,"y":18,"lo":15,"hi":21,"lo2":12,"hi2":24},
{"s":"test","x":500,"y":38,"lo":34,"hi":42,"lo2":30,"hi2":46},
{"s":"test","x":750,"y":54,"lo":49,"hi":59,"lo2":44,"hi2":64},
{"s":"test","x":1000,"y":68,"lo":62,"hi":74,"lo2":56,"hi2":80},
{"s":"test","x":1250,"y":76,"lo":70,"hi":82,"lo2":64,"hi2":88},
{"s":"test","x":1500,"y":85,"lo":78,"hi":92,"lo2":71,"hi2":99},
{"s":"test","x":1750,"y":93,"lo":86,"hi":100,"lo2":78,"hi2":108},
{"s":"test","x":2000,"y":100,"lo":92,"hi":108,"lo2":84,"hi2":116},
{"s":"test","x":2250,"y":105,"lo":97,"hi":113,"lo2":88,"hi2":122},
{"s":"test","x":2500,"y":110,"lo":102,"hi":118,"lo2":92,"hi2":130},
{"s":"test","x":2750,"y":113,"lo":105,"hi":121,"lo2":94,"hi2":138},
{"s":"test","x":3000,"y":112,"lo":104,"hi":120,"lo2":93,"hi2":144},
{"s":"test","x":3250,"y":112,"lo":104,"hi":120,"lo2":93,"hi2":150},
{"s":"test","x":3500,"y":114,"lo":106,"hi":122,"lo2":95,"hi2":152},
{"s":"test","x":3750,"y":112,"lo":104,"hi":120,"lo2":94,"hi2":140},
{"s":"test","x":4000,"y":110,"lo":102,"hi":118,"lo2":93,"hi2":132},
{"s":"test","x":4250,"y":109,"lo":101,"hi":117,"lo2":92,"hi2":128},
{"s":"test","x":4500,"y":107,"lo":99,"hi":115,"lo2":90,"hi2":126},
{"s":"test","x":4750,"y":106,"lo":98,"hi":114,"lo2":89,"hi2":124},
{"s":"test","x":5000,"y":104,"lo":96,"hi":112,"lo2":87,"hi2":122},
{"s":"test","x":5250,"y":101,"lo":93,"hi":109,"lo2":84,"hi2":119},
{"s":"test","x":5500,"y":102,"lo":94,"hi":110,"lo2":85,"hi2":120},
{"s":"test","x":5750,"y":104,"lo":96,"hi":112,"lo2":87,"hi2":122},
{"s":"test","x":6000,"y":105,"lo":97,"hi":113,"lo2":88,"hi2":123},
{"s":"test","x":6250,"y":103,"lo":95,"hi":111,"lo2":86,"hi2":121},
{"s":"test","x":6500,"y":104,"lo":96,"hi":112,"lo2":87,"hi2":122},
{"s":"test","x":6750,"y":106,"lo":98,"hi":114,"lo2":89,"hi2":124},
{"s":"test","x":7000,"y":107,"lo":99,"hi":115,"lo2":90,"hi2":125},
{"s":"test","x":7250,"y":109,"lo":101,"hi":117,"lo2":92,"hi2":127},
{"s":"test","x":7500,"y":111,"lo":103,"hi":119,"lo2":94,"hi2":129},
{"s":"test","x":7750,"y":110,"lo":102,"hi":118,"lo2":93,"hi2":128},
{"s":"test","x":8000,"y":107,"lo":99,"hi":115,"lo2":90,"hi2":125},
{"s":"test","x":8250,"y":105,"lo":97,"hi":113,"lo2":88,"hi2":123},
{"s":"test","x":8500,"y":105,"lo":97,"hi":113,"lo2":88,"hi2":123},
{"s":"test","x":8750,"y":106,"lo":98,"hi":114,"lo2":89,"hi2":124},
{"s":"test","x":9000,"y":104,"lo":96,"hi":112,"lo2":87,"hi2":122},
{"s":"test","x":9250,"y":102,"lo":94,"hi":110,"lo2":85,"hi2":120},
{"s":"test","x":9500,"y":100,"lo":92,"hi":108,"lo2":83,"hi2":118},
{"s":"test","x":9750,"y":97,"lo":89,"hi":105,"lo2":80,"hi2":114},
{"s":"test","x":9990,"y":95,"lo":87,"hi":103,"lo2":78,"hi2":112},
{"s":"train","x":0,"y":26,"lo":22,"hi":30,"lo2":18,"hi2":34},
{"s":"train","x":250,"y":17,"lo":13,"hi":21,"lo2":9,"hi2":25},
{"s":"train","x":500,"y":36,"lo":31,"hi":41,"lo2":25,"hi2":47},
{"s":"train","x":750,"y":52,"lo":46,"hi":58,"lo2":39,"hi2":65},
{"s":"train","x":1000,"y":66,"lo":59,"hi":73,"lo2":51,"hi2":81},
{"s":"train","x":1250,"y":75,"lo":67,"hi":83,"lo2":58,"hi2":92},
{"s":"train","x":1500,"y":84,"lo":75,"hi":93,"lo2":65,"hi2":103},
{"s":"train","x":1750,"y":94,"lo":85,"hi":103,"lo2":74,"hi2":114},
{"s":"train","x":2000,"y":102,"lo":92,"hi":112,"lo2":80,"hi2":124},
{"s":"train","x":2250,"y":106,"lo":96,"hi":116,"lo2":82,"hi2":128},
{"s":"train","x":2500,"y":110,"lo":100,"hi":120,"lo2":84,"hi2":134},
{"s":"train","x":2750,"y":112,"lo":102,"hi":122,"lo2":84,"hi2":138},
{"s":"train","x":3000,"y":110,"lo":100,"hi":120,"lo2":82,"hi2":136},
{"s":"train","x":3250,"y":110,"lo":100,"hi":120,"lo2":80,"hi2":138},
{"s":"train","x":3500,"y":111,"lo":101,"hi":121,"lo2":80,"hi2":140},
{"s":"train","x":3750,"y":108,"lo":98,"hi":118,"lo2":78,"hi2":134},
{"s":"train","x":4000,"y":106,"lo":96,"hi":116,"lo2":76,"hi2":130},
{"s":"train","x":4250,"y":104,"lo":94,"hi":114,"lo2":74,"hi2":128},
{"s":"train","x":4500,"y":102,"lo":92,"hi":112,"lo2":72,"hi2":126},
{"s":"train","x":4750,"y":100,"lo":90,"hi":110,"lo2":70,"hi2":124},
{"s":"train","x":5000,"y":99,"lo":89,"hi":109,"lo2":70,"hi2":122},
{"s":"train","x":5250,"y":97,"lo":87,"hi":107,"lo2":70,"hi2":120},
{"s":"train","x":5500,"y":98,"lo":88,"hi":108,"lo2":71,"hi2":121},
{"s":"train","x":5750,"y":99,"lo":89,"hi":109,"lo2":72,"hi2":122},
{"s":"train","x":6000,"y":99,"lo":89,"hi":109,"lo2":72,"hi2":122},
{"s":"train","x":6250,"y":97,"lo":87,"hi":107,"lo2":70,"hi2":120},
{"s":"train","x":6500,"y":98,"lo":88,"hi":108,"lo2":71,"hi2":121},
{"s":"train","x":6750,"y":99,"lo":89,"hi":109,"lo2":72,"hi2":122},
{"s":"train","x":7000,"y":100,"lo":90,"hi":110,"lo2":74,"hi2":124},
{"s":"train","x":7250,"y":102,"lo":92,"hi":112,"lo2":76,"hi2":126},
{"s":"train","x":7500,"y":103,"lo":93,"hi":113,"lo2":78,"hi2":127},
{"s":"train","x":7750,"y":100,"lo":91,"hi":109,"lo2":77,"hi2":124},
{"s":"train","x":8000,"y":97,"lo":88,"hi":106,"lo2":76,"hi2":120},
{"s":"train","x":8250,"y":95,"lo":86,"hi":104,"lo2":76,"hi2":118},
{"s":"train","x":8500,"y":95,"lo":86,"hi":104,"lo2":77,"hi2":117},
{"s":"train","x":8750,"y":96,"lo":87,"hi":105,"lo2":78,"hi2":118},
{"s":"train","x":9000,"y":94,"lo":86,"hi":102,"lo2":78,"hi2":116},
{"s":"train","x":9250,"y":92,"lo":84,"hi":100,"lo2":77,"hi2":114},
{"s":"train","x":9500,"y":90,"lo":82,"hi":98,"lo2":75,"hi2":112},
{"s":"train","x":9750,"y":88,"lo":81,"hi":95,"lo2":75,"hi2":110},
{"s":"train","x":9990,"y":88,"lo":81,"hi":95,"lo2":76,"hi2":110}
],
"r5":[
{"s":"test","x":0,"y":23,"lo":20,"hi":26,"lo2":17,"hi2":29},
{"s":"test","x":250,"y":20,"lo":17,"hi":23,"lo2":14,"hi2":26},
{"s":"test","x":500,"y":34,"lo":31,"hi":37,"lo2":27,"hi2":41},
{"s":"test","x":750,"y":43,"lo":40,"hi":46,"lo2":35,"hi2":51},
{"s":"test","x":1000,"y":48,"lo":45,"hi":51,"lo2":40,"hi2":56},
{"s":"test","x":1250,"y":54,"lo":51,"hi":57,"lo2":46,"hi2":62},
{"s":"test","x":1500,"y":57,"lo":54,"hi":60,"lo2":50,"hi2":64},
{"s":"test","x":1750,"y":58,"lo":55,"hi":61,"lo2":51,"hi2":65},
{"s":"test","x":2000,"y":61,"lo":58,"hi":64,"lo2":55,"hi2":67},
{"s":"test","x":2250,"y":64,"lo":61,"hi":67,"lo2":58,"hi2":70},
{"s":"test","x":2500,"y":67,"lo":64,"hi":70,"lo2":61,"hi2":73},
{"s":"test","x":2750,"y":68,"lo":65,"hi":71,"lo2":62,"hi2":74},
{"s":"test","x":3000,"y":66,"lo":63,"hi":69,"lo2":60,"hi2":72},
{"s":"test","x":3250,"y":67,"lo":64,"hi":70,"lo2":61,"hi2":73},
{"s":"test","x":3500,"y":68,"lo":65,"hi":71,"lo2":62,"hi2":74},
{"s":"test","x":3750,"y":70,"lo":67,"hi":73,"lo2":64,"hi2":76},
{"s":"test","x":4000,"y":68,"lo":65,"hi":71,"lo2":62,"hi2":74},
{"s":"test","x":4250,"y":67,"lo":64,"hi":70,"lo2":61,"hi2":73},
{"s":"test","x":4500,"y":67,"lo":64,"hi":70,"lo2":61,"hi2":73},
{"s":"test","x":4750,"y":68,"lo":65,"hi":71,"lo2":62,"hi2":74},
{"s":"test","x":5000,"y":67,"lo":64,"hi":70,"lo2":61,"hi2":73},
{"s":"test","x":5250,"y":66,"lo":63,"hi":69,"lo2":60,"hi2":72},
{"s":"test","x":5500,"y":66,"lo":63,"hi":69,"lo2":60,"hi2":72},
{"s":"test","x":5750,"y":67,"lo":64,"hi":70,"lo2":61,"hi2":73},
{"s":"test","x":6000,"y":66,"lo":63,"hi":69,"lo2":60,"hi2":72},
{"s":"test","x":6250,"y":67,"lo":64,"hi":70,"lo2":61,"hi2":73},
{"s":"test","x":6500,"y":70,"lo":67,"hi":73,"lo2":64,"hi2":76},
{"s":"test","x":6750,"y":67,"lo":64,"hi":70,"lo2":61,"hi2":73},
{"s":"test","x":7000,"y":66,"lo":63,"hi":69,"lo2":60,"hi2":72},
{"s":"test","x":7250,"y":66,"lo":63,"hi":69,"lo2":60,"hi2":72},
{"s":"test","x":7500,"y":67,"lo":64,"hi":70,"lo2":61,"hi2":73},
{"s":"test","x":7750,"y":65,"lo":62,"hi":68,"lo2":59,"hi2":71},
{"s":"test","x":8000,"y":63,"lo":60,"hi":66,"lo2":57,"hi2":69},
{"s":"test","x":8250,"y":62,"lo":59,"hi":65,"lo2":56,"hi2":68},
{"s":"test","x":8500,"y":63,"lo":60,"hi":66,"lo2":57,"hi2":69},
{"s":"test","x":8750,"y":63,"lo":60,"hi":66,"lo2":57,"hi2":69},
{"s":"test","x":9000,"y":62,"lo":59,"hi":65,"lo2":56,"hi2":68},
{"s":"test","x":9250,"y":60,"lo":57,"hi":63,"lo2":54,"hi2":66},
{"s":"test","x":9500,"y":59,"lo":56,"hi":62,"lo2":53,"hi2":65},
{"s":"test","x":9750,"y":58,"lo":55,"hi":61,"lo2":52,"hi2":64},
{"s":"test","x":9990,"y":60,"lo":57,"hi":63,"lo2":54,"hi2":66},
{"s":"train","x":0,"y":23,"lo":20,"hi":26,"lo2":16,"hi2":30},
{"s":"train","x":250,"y":35,"lo":29,"hi":41,"lo2":22,"hi2":48},
{"s":"train","x":500,"y":62,"lo":55,"hi":69,"lo2":46,"hi2":78},
{"s":"train","x":750,"y":79,"lo":71,"hi":87,"lo2":62,"hi2":96},
{"s":"train","x":1000,"y":91,"lo":83,"hi":99,"lo2":73,"hi2":109},
{"s":"train","x":1250,"y":99,"lo":91,"hi":107,"lo2":82,"hi2":116},
{"s":"train","x":1500,"y":106,"lo":98,"hi":114,"lo2":90,"hi2":122},
{"s":"train","x":1750,"y":106,"lo":99,"hi":113,"lo2":92,"hi2":120},
{"s":"train","x":2000,"y":106,"lo":99,"hi":113,"lo2":92,"hi2":120},
{"s":"train","x":2250,"y":109,"lo":102,"hi":116,"lo2":95,"hi2":123},
{"s":"train","x":2500,"y":112,"lo":105,"hi":119,"lo2":98,"hi2":126},
{"s":"train","x":2750,"y":112,"lo":105,"hi":119,"lo2":98,"hi2":126},
{"s":"train","x":3000,"y":106,"lo":99,"hi":113,"lo2":92,"hi2":120},
{"s":"train","x":3250,"y":103,"lo":96,"hi":110,"lo2":89,"hi2":117},
{"s":"train","x":3500,"y":105,"lo":98,"hi":112,"lo2":91,"hi2":119},
{"s":"train","x":3750,"y":106,"lo":99,"hi":113,"lo2":92,"hi2":120},
{"s":"train","x":4000,"y":108,"lo":100,"hi":116,"lo2":92,"hi2":124},
{"s":"train","x":4250,"y":110,"lo":102,"hi":118,"lo2":94,"hi2":126},
{"s":"train","x":4500,"y":109,"lo":101,"hi":117,"lo2":93,"hi2":125},
{"s":"train","x":4750,"y":107,"lo":99,"hi":115,"lo2":90,"hi2":124},
{"s":"train","x":5000,"y":106,"lo":98,"hi":114,"lo2":89,"hi2":123},
{"s":"train","x":5250,"y":107,"lo":99,"hi":115,"lo2":91,"hi2":123},
{"s":"train","x":5500,"y":106,"lo":98,"hi":114,"lo2":90,"hi2":122},
{"s":"train","x":5750,"y":104,"lo":97,"hi":111,"lo2":90,"hi2":118},
{"s":"train","x":6000,"y":103,"lo":96,"hi":110,"lo2":89,"hi2":117},
{"s":"train","x":6250,"y":106,"lo":99,"hi":113,"lo2":92,"hi2":120},
{"s":"train","x":6500,"y":104,"lo":97,"hi":111,"lo2":90,"hi2":118},
{"s":"train","x":6750,"y":100,"lo":93,"hi":107,"lo2":86,"hi2":114},
{"s":"train","x":7000,"y":100,"lo":93,"hi":107,"lo2":86,"hi2":114},
{"s":"train","x":7250,"y":99,"lo":92,"hi":106,"lo2":85,"hi2":113},
{"s":"train","x":7500,"y":97,"lo":90,"hi":104,"lo2":83,"hi2":111},
{"s":"train","x":7750,"y":95,"lo":88,"hi":102,"lo2":81,"hi2":109},
{"s":"train","x":8000,"y":93,"lo":86,"hi":100,"lo2":79,"hi2":107},
{"s":"train","x":8250,"y":93,"lo":86,"hi":100,"lo2":80,"hi2":106},
{"s":"train","x":8500,"y":96,"lo":90,"hi":102,"lo2":84,"hi2":108},
{"s":"train","x":8750,"y":98,"lo":92,"hi":104,"lo2":86,"hi2":110},
{"s":"train","x":9000,"y":100,"lo":94,"hi":106,"lo2":88,"hi2":112},
{"s":"train","x":9250,"y":100,"lo":94,"hi":106,"lo2":88,"hi2":112},
{"s":"train","x":9500,"y":100,"lo":94,"hi":106,"lo2":88,"hi2":112},
{"s":"train","x":9750,"y":102,"lo":96,"hi":108,"lo2":90,"hi2":114},
{"s":"train","x":9990,"y":101,"lo":95,"hi":107,"lo2":89,"hi2":113}
],
"r10":[
{"s":"test","x":0,"y":1,"lo":0,"hi":2,"lo2":-1,"hi2":3},
{"s":"test","x":250,"y":1,"lo":0,"hi":2,"lo2":-1,"hi2":3},
{"s":"test","x":500,"y":2,"lo":1,"hi":3,"lo2":0,"hi2":4},
{"s":"test","x":750,"y":3,"lo":2,"hi":4,"lo2":1,"hi2":5},
{"s":"test","x":1000,"y":4,"lo":3,"hi":5,"lo2":2,"hi2":6},
{"s":"test","x":1250,"y":5,"lo":4,"hi":6,"lo2":3,"hi2":7},
{"s":"test","x":1500,"y":5,"lo":4,"hi":6,"lo2":3,"hi2":7},
{"s":"test","x":1750,"y":5,"lo":4,"hi":6,"lo2":3,"hi2":7},
{"s":"test","x":2000,"y":5,"lo":4,"hi":6,"lo2":3,"hi2":7},
{"s":"test","x":2250,"y":5,"lo":4,"hi":6,"lo2":3,"hi2":7},
{"s":"test","x":2500,"y":5,"lo":4,"hi":6,"lo2":3,"hi2":7},
{"s":"test","x":2750,"y":5,"lo":4,"hi":6,"lo2":3,"hi2":7},
{"s":"test","x":3000,"y":5,"lo":4,"hi":6,"lo2":3,"hi2":7},
{"s":"test","x":3250,"y":5,"lo":4,"hi":6,"lo2":3,"hi2":7},
{"s":"test","x":3500,"y":5,"lo":4,"hi":6,"lo2":3,"hi2":7},
{"s":"test","x":3750,"y":5,"lo":4,"hi":6,"lo2":3,"hi2":7},
{"s":"test","x":4000,"y":5,"lo":4,"hi":6,"lo2":3,"hi2":7},
{"s":"test","x":4250,"y":5,"lo":4,"hi":6,"lo2":3,"hi2":7},
{"s":"test","x":4500,"y":5,"lo":4,"hi":6,"lo2":3,"hi2":7},
{"s":"test","x":4750,"y":5,"lo":4,"hi":6,"lo2":3,"hi2":7},
{"s":"test","x":5000,"y":5,"lo":4,"hi":6,"lo2":3,"hi2":7},
{"s":"test","x":5250,"y":5,"lo":4,"hi":6,"lo2":3,"hi2":8},
{"s":"test","x":5500,"y":5,"lo":4,"hi":6,"lo2":3,"hi2":8},
{"s":"test","x":5750,"y":5,"lo":4,"hi":6,"lo2":3,"hi2":7},
{"s":"test","x":6000,"y":5,"lo":4,"hi":6,"lo2":3,"hi2":7},
{"s":"test","x":6250,"y":5,"lo":4,"hi":6,"lo2":3,"hi2":7},
{"s":"test","x":6500,"y":5,"lo":4,"hi":6,"lo2":3,"hi2":7},
{"s":"test","x":6750,"y":5,"lo":4,"hi":6,"lo2":3,"hi2":7},
{"s":"test","x":7000,"y":5,"lo":4,"hi":6,"lo2":3,"hi2":7},
{"s":"test","x":7250,"y":5,"lo":4,"hi":6,"lo2":3,"hi2":7},
{"s":"test","x":7500,"y":5,"lo":4,"hi":6,"lo2":3,"hi2":7},
{"s":"test","x":7750,"y":5,"lo":4,"hi":6,"lo2":3,"hi2":7},
{"s":"test","x":8000,"y":4,"lo":3,"hi":5,"lo2":2,"hi2":6},
{"s":"test","x":8250,"y":4,"lo":3,"hi":5,"lo2":2,"hi2":6},
{"s":"test","x":8500,"y":4,"lo":3,"hi":5,"lo2":2,"hi2":6},
{"s":"test","x":8750,"y":4,"lo":3,"hi":5,"lo2":2,"hi2":6},
{"s":"test","x":9000,"y":4,"lo":3,"hi":5,"lo2":2,"hi2":6},
{"s":"test","x":9250,"y":4,"lo":3,"hi":5,"lo2":2,"hi2":6},
{"s":"test","x":9500,"y":4,"lo":3,"hi":5,"lo2":2,"hi2":6},
{"s":"test","x":9750,"y":4,"lo":3,"hi":5,"lo2":2,"hi2":6},
{"s":"test","x":9990,"y":4,"lo":3,"hi":5,"lo2":2,"hi2":6},
{"s":"train","x":0,"y":12,"lo":9,"hi":15,"lo2":6,"hi2":18},
{"s":"train","x":250,"y":8,"lo":5,"hi":11,"lo2":2,"hi2":14},
{"s":"train","x":500,"y":11,"lo":7,"hi":15,"lo2":3,"hi2":19},
{"s":"train","x":750,"y":23,"lo":18,"hi":28,"lo2":13,"hi2":33},
{"s":"train","x":1000,"y":33,"lo":27,"hi":39,"lo2":21,"hi2":45},
{"s":"train","x":1250,"y":38,"lo":31,"hi":45,"lo2":25,"hi2":51},
{"s":"train","x":1500,"y":42,"lo":35,"hi":49,"lo2":28,"hi2":56},
{"s":"train","x":1750,"y":40,"lo":33,"hi":47,"lo2":26,"hi2":54},
{"s":"train","x":2000,"y":38,"lo":31,"hi":45,"lo2":24,"hi2":52},
{"s":"train","x":2250,"y":39,"lo":32,"hi":46,"lo2":25,"hi2":53},
{"s":"train","x":2500,"y":38,"lo":31,"hi":45,"lo2":24,"hi2":52},
{"s":"train","x":2750,"y":40,"lo":33,"hi":47,"lo2":26,"hi2":54},
{"s":"train","x":3000,"y":41,"lo":34,"hi":48,"lo2":27,"hi2":55},
{"s":"train","x":3250,"y":37,"lo":30,"hi":44,"lo2":24,"hi2":50},
{"s":"train","x":3500,"y":34,"lo":28,"hi":40,"lo2":22,"hi2":46},
{"s":"train","x":3750,"y":36,"lo":30,"hi":42,"lo2":24,"hi2":48},
{"s":"train","x":4000,"y":39,"lo":32,"hi":46,"lo2":25,"hi2":53},
{"s":"train","x":4250,"y":40,"lo":33,"hi":47,"lo2":25,"hi2":55},
{"s":"train","x":4500,"y":40,"lo":32,"hi":48,"lo2":24,"hi2":58},
{"s":"train","x":4750,"y":42,"lo":34,"hi":50,"lo2":25,"hi2":62},
{"s":"train","x":5000,"y":43,"lo":35,"hi":51,"lo2":26,"hi2":65},
{"s":"train","x":5250,"y":45,"lo":37,"hi":53,"lo2":28,"hi2":66},
{"s":"train","x":5500,"y":45,"lo":37,"hi":53,"lo2":28,"hi2":66},
{"s":"train","x":5750,"y":44,"lo":36,"hi":52,"lo2":27,"hi2":65},
{"s":"train","x":6000,"y":42,"lo":34,"hi":50,"lo2":25,"hi2":64},
{"s":"train","x":6250,"y":41,"lo":33,"hi":49,"lo2":24,"hi2":63},
{"s":"train","x":6500,"y":40,"lo":31,"hi":49,"lo2":18,"hi2":62},
{"s":"train","x":6750,"y":35,"lo":25,"hi":45,"lo2":10,"hi2":60},
{"s":"train","x":7000,"y":38,"lo":28,"hi":48,"lo2":12,"hi2":64},
{"s":"train","x":7250,"y":39,"lo":30,"hi":48,"lo2":14,"hi2":63},
{"s":"train","x":7500,"y":38,"lo":30,"hi":46,"lo2":20,"hi2":60},
{"s":"train","x":7750,"y":40,"lo":32,"hi":48,"lo2":24,"hi2":58},
{"s":"train","x":8000,"y":40,"lo":33,"hi":47,"lo2":26,"hi2":56},
{"s":"train","x":8250,"y":41,"lo":34,"hi":48,"lo2":27,"hi2":56},
{"s":"train","x":8500,"y":44,"lo":37,"hi":51,"lo2":30,"hi2":58},
{"s":"train","x":8750,"y":42,"lo":35,"hi":49,"lo2":28,"hi2":56},
{"s":"train","x":9000,"y":39,"lo":33,"hi":45,"lo2":27,"hi2":51},
{"s":"train","x":9250,"y":37,"lo":31,"hi":43,"lo2":25,"hi2":49},
{"s":"train","x":9500,"y":35,"lo":29,"hi":41,"lo2":23,"hi2":47},
{"s":"train","x":9750,"y":33,"lo":27,"hi":39,"lo2":21,"hi2":45},
{"s":"train","x":9990,"y":32,"lo":26,"hi":38,"lo2":20,"hi2":44}
]
},
"resolve":{"scale":{"x":"independent","y":"independent","color":"independent","strokeDash":"independent"},"axis":{"x":"independent","y":"independent"},"legend":{"color":"independent","strokeDash":"independent"}},
"spacing":9,
"vconcat":[
{"spacing":13,
"resolve":{"scale":{"x":"independent","y":"independent","color":"independent","strokeDash":"independent"},"axis":{"x":"independent","y":"independent"},"legend":{"color":"independent","strokeDash":"independent"}},
"hconcat":[
{"width":190,"height":132,"title":"0.1","data":{"name":"o1"},
"encoding":{"x":{"field":"x","type":"quantitative","scale":{"domain":[0,9990],"nice":false},"axis":{"values":[0,2000,4000,6000,8000],"format":"d","title":null}}},
"layer":[
{"mark":{"type":"area","color":"#1F7A1F","opacity":0.22},"encoding":{"y":{"field":"lo2","type":"quantitative","scale":{"domain":[4,184],"nice":false,"zero":false},"axis":{"values":[50,100,150],"title":"Orig Reward"}},"y2":{"field":"hi2"},"detail":{"field":"s","type":"nominal"}}},
{"mark":{"type":"area","color":"#1F7A1F","opacity":0.22},"encoding":{"y":{"field":"lo","type":"quantitative","scale":{"domain":[4,184],"nice":false,"zero":false},"axis":{"values":[50,100,150],"title":"Orig Reward"}},"y2":{"field":"hi"},"detail":{"field":"s","type":"nominal"}}},
{"mark":{"type":"line","strokeWidth":1,"color":"#1F7A1F"},"encoding":{"y":{"field":"y","type":"quantitative","scale":{"domain":[4,184],"nice":false,"zero":false},"axis":{"values":[50,100,150],"title":"Orig Reward"}},
"strokeDash":{"field":"s","type":"nominal","scale":{"range":[[1,0],[3.5,1.6]]},"legend":{"title":null,"orient":"bottom-right","labelExpr":"'0.1 ' + datum.label","encode":{"symbols":{"update":{"stroke":{"value":"#1F7A1F"},"strokeWidth":{"value":1.3},"opacity":{"value":1}}}}}}}}
]},
{"width":190,"height":132,"title":"0.2","data":{"name":"o2"},
"encoding":{"x":{"field":"x","type":"quantitative","scale":{"domain":[0,9990],"nice":false},"axis":{"values":[0,2000,4000,6000,8000],"format":"d","title":null}}},
"layer":[
{"mark":{"type":"area","color":"#2E8B57","opacity":0.2},"encoding":{"y":{"field":"lo2","type":"quantitative","scale":{"domain":[4,184],"nice":false,"zero":false},"axis":{"values":[50,100,150],"labels":false,"labelPadding":0,"title":null}},"y2":{"field":"hi2"},"detail":{"field":"s","type":"nominal"}}},
{"mark":{"type":"area","color":"#2E8B57","opacity":0.2},"encoding":{"y":{"field":"lo","type":"quantitative","scale":{"domain":[4,184],"nice":false,"zero":false},"axis":{"values":[50,100,150],"labels":false,"labelPadding":0,"title":null}},"y2":{"field":"hi"},"detail":{"field":"s","type":"nominal"}}},
{"mark":{"type":"line","strokeWidth":1,"color":"#2E8B57"},"encoding":{"y":{"field":"y","type":"quantitative","scale":{"domain":[4,184],"nice":false,"zero":false},"axis":{"values":[50,100,150],"labels":false,"labelPadding":0,"title":null}},
"strokeDash":{"field":"s","type":"nominal","scale":{"range":[[1,0],[3.5,1.6]]},"legend":{"title":null,"orient":"top-right","labelExpr":"'0.2 ' + datum.label","encode":{"symbols":{"update":{"stroke":{"value":"#2E8B57"},"strokeWidth":{"value":1.3},"opacity":{"value":1}}}}}}}}
]},
{"width":190,"height":132,"title":"0.5","data":{"name":"o5"},
"encoding":{"x":{"field":"x","type":"quantitative","scale":{"domain":[0,9990],"nice":false},"axis":{"values":[0,2000,4000,6000,8000],"format":"d","title":null}}},
"layer":[
{"mark":{"type":"area","color":"#20B2AA","opacity":0.2},"encoding":{"y":{"field":"lo2","type":"quantitative","scale":{"domain":[4,184],"nice":false,"zero":false},"axis":{"values":[50,100,150],"labels":false,"labelPadding":0,"title":null}},"y2":{"field":"hi2"},"detail":{"field":"s","type":"nominal"}}},
{"mark":{"type":"area","color":"#20B2AA","opacity":0.2},"encoding":{"y":{"field":"lo","type":"quantitative","scale":{"domain":[4,184],"nice":false,"zero":false},"axis":{"values":[50,100,150],"labels":false,"labelPadding":0,"title":null}},"y2":{"field":"hi"},"detail":{"field":"s","type":"nominal"}}},
{"mark":{"type":"line","strokeWidth":1,"color":"#20B2AA"},"encoding":{"y":{"field":"y","type":"quantitative","scale":{"domain":[4,184],"nice":false,"zero":false},"axis":{"values":[50,100,150],"labels":false,"labelPadding":0,"title":null}},
"strokeDash":{"field":"s","type":"nominal","scale":{"range":[[1,0],[3.5,1.6]]},"legend":{"title":null,"orient":"top-right","labelExpr":"'0.5 ' + datum.label","encode":{"symbols":{"update":{"stroke":{"value":"#20B2AA"},"strokeWidth":{"value":1.3},"opacity":{"value":1}}}}}}}}
]},
{"width":190,"height":132,"title":"1.0","data":{"name":"o10"},
"encoding":{"x":{"field":"x","type":"quantitative","scale":{"domain":[0,9990],"nice":false},"axis":{"values":[0,2000,4000,6000,8000],"format":"d","title":null}}},
"layer":[
{"mark":{"type":"area","color":"#9370DB","opacity":0.2},"encoding":{"y":{"field":"lo2","type":"quantitative","scale":{"domain":[4,184],"nice":false,"zero":false},"axis":{"values":[50,100,150],"labels":false,"labelPadding":0,"title":null}},"y2":{"field":"hi2"},"detail":{"field":"s","type":"nominal"}}},
{"mark":{"type":"area","color":"#9370DB","opacity":0.2},"encoding":{"y":{"field":"lo","type":"quantitative","scale":{"domain":[4,184],"nice":false,"zero":false},"axis":{"values":[50,100,150],"labels":false,"labelPadding":0,"title":null}},"y2":{"field":"hi"},"detail":{"field":"s","type":"nominal"}}},
{"mark":{"type":"line","strokeWidth":1,"color":"#9370DB"},"encoding":{"y":{"field":"y","type":"quantitative","scale":{"domain":[4,184],"nice":false,"zero":false},"axis":{"values":[50,100,150],"labels":false,"labelPadding":0,"title":null}},
"strokeDash":{"field":"s","type":"nominal","scale":{"range":[[1,0],[3.5,1.6]]},"legend":{"title":null,"orient":"bottom-right","labelExpr":"'1.0 ' + datum.label","encode":{"symbols":{"update":{"stroke":{"value":"#9370DB"},"strokeWidth":{"value":1.3},"opacity":{"value":1}}}}}}}}
]}
]},
{"spacing":13,
"resolve":{"scale":{"x":"independent","y":"independent","color":"independent","strokeDash":"independent"},"axis":{"x":"independent","y":"independent"},"legend":{"color":"independent","strokeDash":"independent"}},
"hconcat":[
{"width":190,"height":130,"data":{"name":"r1"},
"encoding":{"x":{"field":"x","type":"quantitative","scale":{"domain":[0,9990],"nice":false},"axis":{"values":[0,2000,4000,6000,8000],"format":"d","title":"Episodes"}}},
"layer":[
{"mark":{"type":"area","color":"#1F7A1F","opacity":0.22},"encoding":{"y":{"field":"lo2","type":"quantitative","scale":{"domain":[-8.6,159],"nice":false,"zero":false},"axis":{"values":[0,25,50,75,100,125,150],"title":"Rand Reward"}},"y2":{"field":"hi2"},"detail":{"field":"s","type":"nominal"}}},
{"mark":{"type":"area","color":"#1F7A1F","opacity":0.22},"encoding":{"y":{"field":"lo","type":"quantitative","scale":{"domain":[-8.6,159],"nice":false,"zero":false},"axis":{"values":[0,25,50,75,100,125,150],"title":"Rand Reward"}},"y2":{"field":"hi"},"detail":{"field":"s","type":"nominal"}}},
{"mark":{"type":"line","strokeWidth":1,"color":"#1F7A1F"},"encoding":{"y":{"field":"y","type":"quantitative","scale":{"domain":[-8.6,159],"nice":false,"zero":false},"axis":{"values":[0,25,50,75,100,125,150],"title":"Rand Reward"}},
"strokeDash":{"field":"s","type":"nominal","scale":{"range":[[1,0],[3.5,1.6]]},"legend":{"title":null,"orient":"bottom-right","labelExpr":"'0.1' + datum.label + '-random'","encode":{"symbols":{"update":{"stroke":{"value":"#1F7A1F"},"strokeWidth":{"value":1.3},"opacity":{"value":1}}}}}}}}
]},
{"width":190,"height":130,"data":{"name":"r2"},
"encoding":{"x":{"field":"x","type":"quantitative","scale":{"domain":[0,9990],"nice":false},"axis":{"values":[0,2000,4000,6000,8000],"format":"d","title":"Episodes"}}},
"layer":[
{"mark":{"type":"area","color":"#2E8B57","opacity":0.2},"encoding":{"y":{"field":"lo2","type":"quantitative","scale":{"domain":[-8.6,159],"nice":false,"zero":false},"axis":{"values":[0,25,50,75,100,125,150],"labels":false,"labelPadding":0,"title":null}},"y2":{"field":"hi2"},"detail":{"field":"s","type":"nominal"}}},
{"mark":{"type":"area","color":"#2E8B57","opacity":0.2},"encoding":{"y":{"field":"lo","type":"quantitative","scale":{"domain":[-8.6,159],"nice":false,"zero":false},"axis":{"values":[0,25,50,75,100,125,150],"labels":false,"labelPadding":0,"title":null}},"y2":{"field":"hi"},"detail":{"field":"s","type":"nominal"}}},
{"mark":{"type":"line","strokeWidth":1,"color":"#2E8B57"},"encoding":{"y":{"field":"y","type":"quantitative","scale":{"domain":[-8.6,159],"nice":false,"zero":false},"axis":{"values":[0,25,50,75,100,125,150],"labels":false,"labelPadding":0,"title":null}},
"strokeDash":{"field":"s","type":"nominal","scale":{"range":[[1,0],[3.5,1.6]]},"legend":{"title":null,"orient":"top-right","labelExpr":"'0.2' + datum.label + '-random'","encode":{"symbols":{"update":{"stroke":{"value":"#2E8B57"},"strokeWidth":{"value":1.3},"opacity":{"value":1}}}}}}}}
]},
{"width":190,"height":130,"data":{"name":"r5"},
"encoding":{"x":{"field":"x","type":"quantitative","scale":{"domain":[0,9990],"nice":false},"axis":{"values":[0,2000,4000,6000,8000],"format":"d","title":"Episodes"}}},
"layer":[
{"mark":{"type":"area","color":"#20B2AA","opacity":0.2},"encoding":{"y":{"field":"lo2","type":"quantitative","scale":{"domain":[-8.6,159],"nice":false,"zero":false},"axis":{"values":[0,25,50,75,100,125,150],"labels":false,"labelPadding":0,"title":null}},"y2":{"field":"hi2"},"detail":{"field":"s","type":"nominal"}}},
{"mark":{"type":"area","color":"#20B2AA","opacity":0.2},"encoding":{"y":{"field":"lo","type":"quantitative","scale":{"domain":[-8.6,159],"nice":false,"zero":false},"axis":{"values":[0,25,50,75,100,125,150],"labels":false,"labelPadding":0,"title":null}},"y2":{"field":"hi"},"detail":{"field":"s","type":"nominal"}}},
{"mark":{"type":"line","strokeWidth":1,"color":"#20B2AA"},"encoding":{"y":{"field":"y","type":"quantitative","scale":{"domain":[-8.6,159],"nice":false,"zero":false},"axis":{"values":[0,25,50,75,100,125,150],"labels":false,"labelPadding":0,"title":null}},
"strokeDash":{"field":"s","type":"nominal","scale":{"range":[[1,0],[3.5,1.6]]},"legend":{"title":null,"orient":"top-right","labelExpr":"'0.5' + datum.label + '-random'","encode":{"symbols":{"update":{"stroke":{"value":"#20B2AA"},"strokeWidth":{"value":1.3},"opacity":{"value":1}}}}}}}}
]},
{"width":190,"height":130,"data":{"name":"r10"},
"encoding":{"x":{"field":"x","type":"quantitative","scale":{"domain":[0,9990],"nice":false},"axis":{"values":[0,2000,4000,6000,8000],"format":"d","title":"Episodes"}}},
"layer":[
{"mark":{"type":"area","color":"#9370DB","opacity":0.2},"encoding":{"y":{"field":"lo2","type":"quantitative","scale":{"domain":[-8.6,159],"nice":false,"zero":false},"axis":{"values":[0,25,50,75,100,125,150],"labels":false,"labelPadding":0,"title":null}},"y2":{"field":"hi2"},"detail":{"field":"s","type":"nominal"}}},
{"mark":{"type":"area","color":"#9370DB","opacity":0.2},"encoding":{"y":{"field":"lo","type":"quantitative","scale":{"domain":[-8.6,159],"nice":false,"zero":false},"axis":{"values":[0,25,50,75,100,125,150],"labels":false,"labelPadding":0,"title":null}},"y2":{"field":"hi"},"detail":{"field":"s","type":"nominal"}}},
{"mark":{"type":"line","strokeWidth":1,"color":"#9370DB"},"encoding":{"y":{"field":"y","type":"quantitative","scale":{"domain":[-8.6,159],"nice":false,"zero":false},"axis":{"values":[0,25,50,75,100,125,150],"labels":false,"labelPadding":0,"title":null}},
"strokeDash":{"field":"s","type":"nominal","scale":{"range":[[1,0],[3.5,1.6]]},"legend":{"title":null,"orient":"top-right","labelExpr":"'1.0' + datum.label + '-random'","encode":{"symbols":{"update":{"stroke":{"value":"#9370DB"},"strokeWidth":{"value":1.3},"opacity":{"value":1}}}}}}}}
]}
]}
]
}
